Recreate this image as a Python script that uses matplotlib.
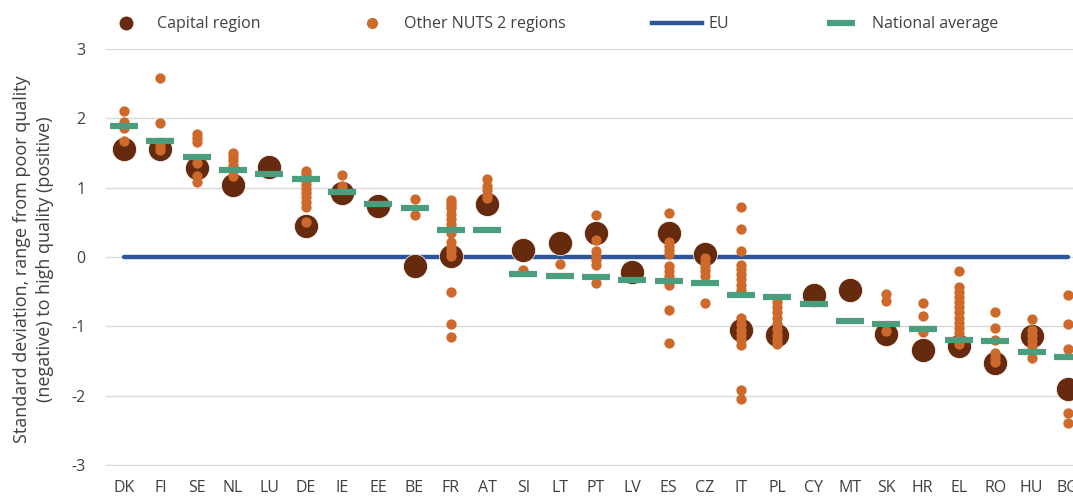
import matplotlib.pyplot as plt
from matplotlib.lines import Line2D

plt.rcParams['font.family'] = ['Open Sans', 'DejaVu Sans']
plt.rcParams['axes.unicode_minus'] = False

countries = ["DK", "FI", "SE", "NL", "LU", "DE", "IE", "EE", "BE", "FR", "AT", "SI", "LT", "PT",
             "LV", "ES", "CZ", "IT", "PL", "CY", "MT", "SK", "HR", "EL", "RO", "HU", "BG"]

# capital region score per country
capital = [1.56, 1.56, 1.29, 1.04, 1.30, 0.45, 0.92, 0.74, -0.13, 0.02, 0.76, 0.10, 0.20, 0.35,
           -0.21, 0.34, 0.04, -1.05, -1.12, -0.55, -0.47, -1.11, -1.34, -1.29, -1.53, -1.14, -1.91]

# national averages
national = [1.89, 1.68, 1.44, 1.25, 1.20, 1.12, 0.94, 0.76, 0.70, 0.39, 0.39, -0.24, -0.27, -0.29,
            -0.33, -0.35, -0.38, -0.55, -0.57, -0.68, -0.92, -0.96, -1.04, -1.19, -1.21, -1.37, -1.44]

# other NUTS 2 regions
others = {
    "DK": [2.11, 1.95, 1.86, 1.67],
    "FI": [2.58, 1.93, 1.60, 1.55],
    "SE": [1.78, 1.72, 1.66, 1.35, 1.17, 1.08],
    "NL": [1.50, 1.45, 1.40, 1.33, 1.25, 1.17],
    "LU": [],
    "DE": [1.24, 1.20, 1.15, 1.10, 1.04, 0.98, 0.92, 0.86, 0.80, 0.72, 0.51],
    "IE": [1.18, 1.02],
    "EE": [],
    "BE": [0.84, 0.60],
    "FR": [0.82, 0.78, 0.74, 0.70, 0.62, 0.55, 0.48, 0.42, 0.35, 0.22, 0.15, 0.08, 0.01,
           -0.50, -0.96, -1.16],
    "AT": [1.12, 1.02, 0.96, 0.90, 0.85],
    "SI": [-0.19],
    "LT": [-0.10],
    "PT": [0.61, 0.25, 0.08, 0.02, -0.05, -0.12, -0.37],
    "LV": [],
    "ES": [0.63, 0.22, 0.16, 0.10, 0.05, -0.13, -0.20, -0.27, -0.33, -0.40, -0.76, -1.24],
    "CZ": [-0.02, -0.08, -0.14, -0.20, -0.27, -0.67],
    "IT": [0.72, 0.41, 0.08, -0.12, -0.18, -0.25, -0.32, -0.40, -0.47, -0.88, -0.96, -1.05,
           -1.12, -1.20, -1.27, -1.92, -2.05],
    "PL": [-0.65, -0.72, -0.80, -0.88, -0.96, -1.04, -1.12, -1.20, -1.26],
    "CY": [],
    "MT": [],
    "SK": [-0.54, -0.63, -1.07],
    "HR": [-0.66, -0.85, -1.08],
    "EL": [-0.20, -0.43, -0.50, -0.57, -0.65, -0.72, -0.80, -0.88, -0.95, -1.03, -1.10,
           -1.18, -1.25],
    "RO": [-0.80, -1.02, -1.20, -1.38, -1.45, -1.52],
    "HU": [-0.89, -1.05, -1.13, -1.21, -1.29, -1.46],
    "BG": [-0.55, -0.97, -1.33, -2.25, -2.40],
}
eu = [0.0] * len(countries)

c_capital = "#662a0e"
c_other = "#cd6a2b"
c_eu = "#2e5597"
c_nat = "#4a9e7d"
c_text = "#404040"

fig = plt.figure(figsize=(10.73, 4.97), dpi=100)
ax = fig.add_axes([0.0988, 0.0644, 0.9133, 0.837])

x = list(range(len(countries)))
ax.plot(x, eu, color=c_eu, lw=3.2, solid_capstyle='round', zorder=2)
ax.scatter(x, capital, s=300, color=c_capital, edgecolors='white', linewidths=0.5, zorder=3)
ox, oy = [], []
for i, c in enumerate(countries):
    for v in others[c]:
        ox.append(i)
        oy.append(v)
ax.scatter(ox, oy, s=55, color=c_other, linewidths=0, zorder=4)
ax.plot(x, national, linestyle='none', marker='_', markersize=20, markeredgewidth=4.5,
        color=c_nat, zorder=5)

ax.set_xlim(-0.5, len(countries) - 0.5)
ax.set_ylim(-3, 3)
ax.set_yticks(range(-3, 4))
ax.set_xticks(x)
ax.set_xticklabels(countries)
ax.grid(axis='y', color='#d9d9d9', lw=1, zorder=0)
ax.set_axisbelow(True)
for s in ['top', 'right', 'left']:
    ax.spines[s].set_visible(False)
ax.spines['bottom'].set_color('#d9d9d9')
ax.tick_params(axis='both', length=0, labelsize=11.5, colors=c_text)
ax.tick_params(axis='x', pad=11)
ax.tick_params(axis='y', pad=15)
ax.set_ylabel("Standard deviation, range from poor quality\n(negative) to high quality (positive)",
              fontsize=13, color=c_text, linespacing=1.35)
ax.yaxis.set_label_coords(-0.053, 0.495)

handles = [
    Line2D([], [], linestyle='none', marker='o', markersize=9, color=c_capital),
    Line2D([], [], linestyle='none', marker='o', markersize=7, color=c_other),
    Line2D([], [], color=c_eu, lw=3.2),
    Line2D([], [], linestyle='none', marker='_', markersize=20, markeredgewidth=4.5, color=c_nat),
]
labels = ["Capital region", "Other NUTS 2 regions", "EU", "National average"]
leg = fig.legend(handles, labels, loc='center left', bbox_to_anchor=(0.081, 0.951), ncol=4,
                 frameon=False, fontsize=11.5, handlelength=3.1, handletextpad=0.4,
                 columnspacing=5.45)
for t in leg.get_texts():
    t.set_color(c_text)

fig.savefig("out.png", dpi=100)
